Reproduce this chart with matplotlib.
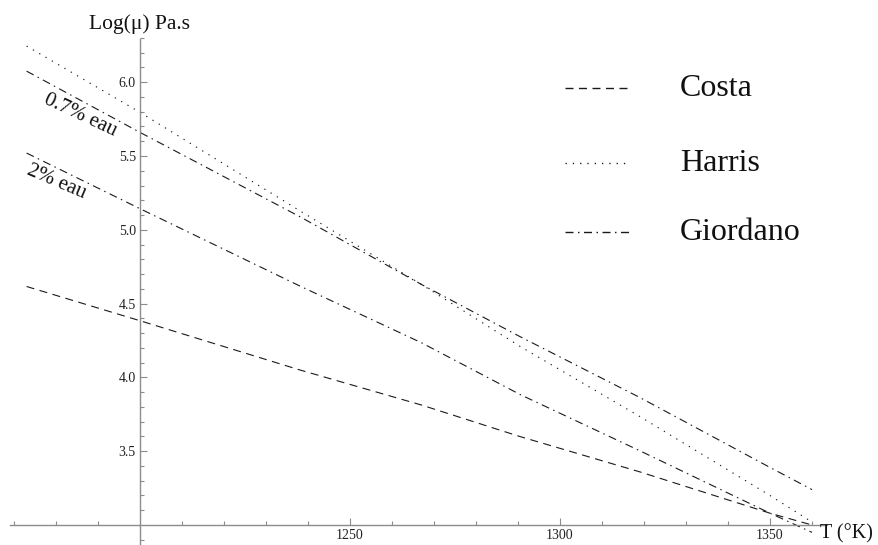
import matplotlib
matplotlib.use("Agg")
import matplotlib.pyplot as plt
from matplotlib.lines import Line2D

plt.rcParams['font.family'] = ['Liberation Serif', 'DejaVu Serif']
plt.rcParams['lines.scale_dashes'] = False

# ---- data ----
T = [1173, 1200, 1238, 1267, 1290.5, 1319, 1350, 1360]
costa = [4.616, 4.384, 4.051, 3.813, 3.599, 3.36, 3.08, 3.00]
harris = [6.245, 5.796, 5.13, 4.63, 4.21, 3.735, 3.20, 3.02]
giordano_07 = [6.075, 5.66, 5.09, 4.63, 4.276, 3.864, 3.39, 3.24]
giordano_2 = [5.52, 5.143, 4.62, 4.235, 3.884, 3.503, 3.08, 2.95]

x_major = [1250, 1300, 1350]
x_minor = [1170, 1180, 1190, 1210, 1220, 1230, 1240, 1260, 1270, 1280, 1290,
           1310, 1320, 1330, 1340, 1360]
y_major = [3.5, 4.0, 4.5, 5.0, 5.5, 6.0]
y_minor = [2.9, 3.1, 3.2, 3.3, 3.4, 3.6, 3.7, 3.8, 3.9, 4.1, 4.2, 4.3, 4.4,
           4.6, 4.7, 4.8, 4.9, 5.1, 5.2, 5.3, 5.4, 5.6, 5.7, 5.8, 5.9, 6.1,
           6.2, 6.3]

series_names = ['Costa', 'Harris', 'Giordano']

# ---- styles ----
PX = 72 / 100.0  # points per pixel at dpi 100
dash_costa = (0, (8 * PX, 5.5 * PX))
dash_harris = (0, (1.3 * PX, 6.0 * PX))
dash_gior = (0, (8 * PX, 4.5 * PX, 1.5 * PX, 4.5 * PX))
lc = '#1a1a1a'
lw = 0.8

fig = plt.figure(figsize=(8.79, 5.45), dpi=100)
ax = fig.add_axes([0, 0, 1, 1])
ax.set_xlim(1166.67, 1375.95)
ax.set_ylim(2.8645, 6.557)

ax.plot(T, costa, color=lc, lw=lw, linestyle=dash_costa)
ax.plot(T, harris, color=lc, lw=lw, linestyle=dash_harris)
ax.plot(T, giordano_07, color=lc, lw=lw, linestyle=dash_gior)
ax.plot(T, giordano_2, color=lc, lw=lw, linestyle=dash_gior)

# axes in Mathematica style
axc = '#8c8c8c'
for s in ['top', 'right']:
    ax.spines[s].set_visible(False)
ax.spines['left'].set_position(('data', 1200))
ax.spines['bottom'].set_position(('data', 3.0))
ax.spines['left'].set_bounds(2.8645, 6.293)
ax.spines['bottom'].set_bounds(1169.0, 1363.6)
for s in ['left', 'bottom']:
    ax.spines[s].set_color(axc)
    ax.spines[s].set_linewidth(1.0)

ax.set_xticks(x_major)
ax.set_xticks(x_minor, minor=True)
ax.set_yticks(y_major)
ax.set_yticks(y_minor, minor=True)
ax.set_xticklabels([str(v) for v in x_major])
ax.set_yticklabels(['%.1f' % v for v in y_major])
ax.tick_params(axis='both', which='major', direction='in', length=5,
               width=0.8, color=axc, labelsize=10, labelcolor='#222222')
ax.tick_params(axis='both', which='minor', direction='in', length=3,
               width=0.8, color=axc)
ax.tick_params(axis='x', which='major', pad=3)
ax.tick_params(axis='y', which='major', pad=3)

# axis labels
ax.text(1200, 6.36, 'Log(\u03bc) Pa.s', ha='center', va='baseline',
        fontsize=15.5, color='#111111')
ax.text(1361.9, 2.939, 'T (\u00b0K)', ha='left', va='center',
        fontsize=14.5, color='#111111')

# rotated curve labels
ax.text(1185.7, 5.778, '0.7% eau', rotation=-25, rotation_mode='anchor',
        ha='center', va='center', fontsize=15, color='#111111')
ax.text(1180.0, 5.324, '2% eau', rotation=-23, rotation_mode='anchor',
        ha='center', va='center', fontsize=15, color='#111111')

# legend (drawn in axes-fraction coordinates)
W, H = 879.0, 545.0
leg_styles = [dash_costa, dash_harris, dash_gior]
leg_y = [88, 163, 232]
for name, st, yy in zip(series_names, leg_styles, leg_y):
    ax.add_line(Line2D([565 / W, 629 / W], [1 - yy / H, 1 - yy / H],
                       transform=ax.transAxes, color=lc, lw=1.0,
                       linestyle=st))
    ax.text(680 / W, 1 - yy / H, name, transform=ax.transAxes,
            ha='left', va='center', fontsize=23, color='#111111')

fig.savefig('out.png', dpi=100)
